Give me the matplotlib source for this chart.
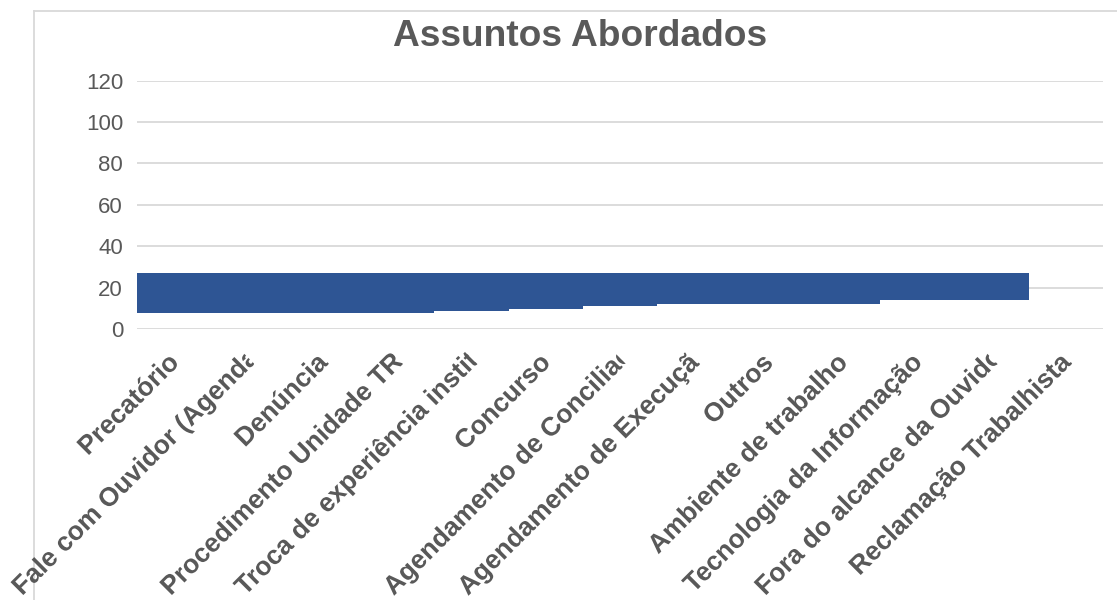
import matplotlib
matplotlib.use("Agg")
import matplotlib.pyplot as plt
import numpy as np
from matplotlib.path import Path
from matplotlib.transforms import IdentityTransform, Affine2D
from matplotlib.font_manager import FontProperties
from matplotlib.lines import Line2D
from matplotlib.textpath import TextPath
from matplotlib.patches import PathPatch

# ---- data ----
categorias = ["Precatório", "Fale com Ouvidor (Agendamento)", "Denúncia",
              "Procedimento Unidade TRT", "Troca de experiência institucional",
              "Concurso", "Agendamento de Conciliação", "Agendamento de Execução",
              "Outros", "Ambiente de trabalho", "Tecnologia da Informação",
              "Fora do alcance da Ouvidoria", "Reclamação Trabalhista"]
valores = [8, 8, 8, 8, 9, 10, 11, 12, 12, 12, 14, 14, 27]
topo = 27
y_ticks = [0, 20, 40, 60, 80, 100, 120]

W, H = 1117, 600
fig = plt.figure(figsize=(W / 100, H / 100), dpi=100)
ax = fig.add_axes([137 / W, 1 - 329.3 / H, 966 / W, 248.8 / H])

x = np.arange(len(categorias))
base = np.array(valores, dtype=float)
ax.bar(x, topo - base, bottom=base, width=1.0, color="#2E5594", linewidth=0, zorder=3)

ax.set_xlim(-0.5, len(categorias) - 0.5)
ax.set_ylim(0, 120)
ax.set_yticks(y_ticks)
ax.set_yticklabels([str(v) for v in y_ticks], fontsize=16, color="#595959",
                   family=["Liberation Sans", "DejaVu Sans"])
ax.tick_params(axis="y", length=0, pad=10)
ax.set_xticks([])
ax.grid(axis="y", color="#D9D9D9", linewidth=1.3, zorder=0)
ax.set_axisbelow(True)
for s in ax.spines.values():
    s.set_visible(False)

# chart border (behind the labels)
fig.add_artist(Line2D([33.5 / W, 33.5 / W], [1 - 10.5 / H, 0], color="#D9D9D9", lw=1.3,
                      transform=fig.transFigure, zorder=0))
fig.add_artist(Line2D([33.5 / W, 1], [1 - 10.5 / H, 1 - 10.5 / H], color="#D9D9D9", lw=1.3,
                      transform=fig.transFigure, zorder=0))

fig.text(580.5 / W, 1 - 46 / H, "Assuntos Abordados", ha="center", va="baseline",
         fontsize=26.7, fontweight="bold", color="#595959",
         family=["Liberation Sans", "DejaVu Sans"])

# rotated category labels, truncated like the original
fs = 19.0
prop = FontProperties(family=["Liberation Sans", "DejaVu Sans"], weight="bold", size=fs)
fig.canvas.draw()
renderer = fig.canvas.get_renderer()
em = fs * 100 / 72
Lmax = 12.45 * em
c = np.cos(np.pi / 4)
anchor_y = H - 359
_, lp_h, lp_d = renderer.get_text_width_height_descent("lp", prop, ismath=False)
vcenter = lp_h / 2 - lp_d
px = 100 / 72
for i, lab in enumerate(categorias):
    ax_x = ax.transData.transform((i, 0))[0] + 1
    w, h, d = renderer.get_text_width_height_descent(lab, prop, ismath=False)
    tp = TextPath((0, 0), lab, size=fs, prop=prop)
    shift = min(w, Lmax)
    tr = (Affine2D().scale(px).translate(-shift, -vcenter).rotate_deg(45)
          .translate(ax_x, anchor_y))
    patch = PathPatch(tp, transform=tr + IdentityTransform(), facecolor="#595959",
                      edgecolor="none", lw=0, zorder=5)
    fig.add_artist(patch)
    if w > Lmax:
        dvec = np.array([c, c])
        nvec = np.array([-c, c])
        st = np.array([ax_x, anchor_y]) - dvec * Lmax
        pts = [st + nvec * 60 - dvec * 20, st + nvec * 60 + dvec * Lmax,
               st - nvec * 60 + dvec * Lmax, st - nvec * 60 - dvec * 20,
               st + nvec * 60 - dvec * 20]
        patch.set_clip_path(Path(pts, closed=True), IdentityTransform())

fig.savefig("out.png", dpi=100)
